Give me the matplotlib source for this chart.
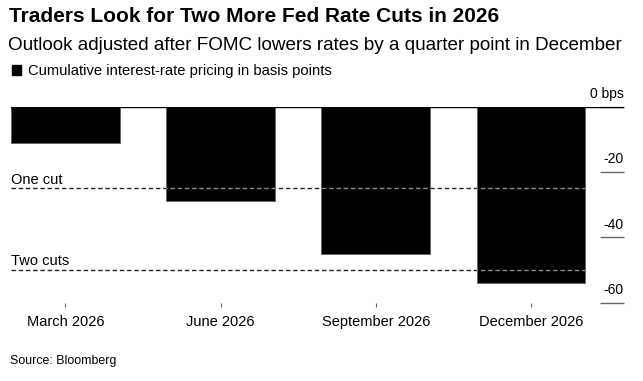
import matplotlib
matplotlib.use("Agg")
import matplotlib.pyplot as plt

# data
months = ['March 2026', 'June 2026', 'September 2026', 'December 2026']
pricing = [-11, -29, -45, -54]          # cumulative bps
cut_levels = [-25, -50]
cut_labels = ['One cut', 'Two cuts']
yticks = [0, -20, -40, -60]
ytick_labels = ['0 bps', '-20', '-40', '-60']

plt.rcParams['font.family'] = ['Liberation Sans', 'DejaVu Sans']

fig = plt.figure(figsize=(6.43, 3.81), dpi=100)
ax = fig.add_axes([11/643, 1 - 302.7/381, (624 - 11)/643, (302.7 - 106.7)/381])

x = range(len(months))
bars = ax.bar(x, pricing, width=0.7, color='black', edgecolor='#666666', linewidth=0.7, zorder=2)

ax.set_xlim(-0.35, 3.6)
ax.set_ylim(-60, 0)

# zero line
ax.axhline(0, color='black', linewidth=1.0, zorder=4)

# cut reference lines: black on white, grey where they cross the bars
for lvl, lab in zip(cut_levels, cut_labels):
    ax.plot([-0.35, 3.35], [lvl, lvl], color='#222222', linewidth=1.0,
            dashes=(3.2, 2), zorder=1)
    for b in bars:
        ln, = ax.plot([-0.35, 3.35], [lvl, lvl], color='#8c8c8c', linewidth=1.0,
                      dashes=(3.2, 2), zorder=3)
        ln.set_clip_path(b)
    ax.annotate(lab, (-0.35, lvl), xytext=(0, 3.5), textcoords='offset points',
                ha='left', va='baseline', fontsize=10.5)

# y axis on the right, labels sit above the tick marks
ax.yaxis.tick_right()
ax.set_yticks(yticks)
ax.tick_params(axis='y', direction='in', length=17, width=1.0, color='#666666',
               labelright=False, right=True, left=False)
for v, t in zip(yticks, ytick_labels):
    ax.annotate(t, (1.0, v), xycoords=('axes fraction', 'data'), xytext=(0, 6.3),
                textcoords='offset points', ha='right', va='baseline', fontsize=10)

ax.set_xticks(list(x))
ax.set_xticklabels(months, fontsize=10.5)
ax.tick_params(axis='x', direction='out', length=3, width=0.8, color='#666666', pad=6)

for s in ax.spines.values():
    s.set_visible(False)

# header
fig.text(9/643, 1 - 17/381, 'Traders Look for Two More Fed Rate Cuts in 2026',
         fontsize=15, fontweight='bold', va='center', ha='left')
fig.text(8/643, 1 - 45/381,
         'Outlook adjusted after FOMC lowers rates by a quarter point in December',
         fontsize=13.6, va='center', ha='left')
fig.patches.append(plt.Rectangle((12/643, 1 - 75/381), 9/643, 10/381,
                                 transform=fig.transFigure, color='black'))
fig.text(28/643, 1 - 71/381, 'Cumulative interest-rate pricing in basis points',
         fontsize=10.6, va='center', ha='left')
fig.text(10/643, 1 - 361/381, 'Source: Bloomberg', fontsize=8.9, va='center', ha='left')

fig.savefig('out.png', dpi=100)
